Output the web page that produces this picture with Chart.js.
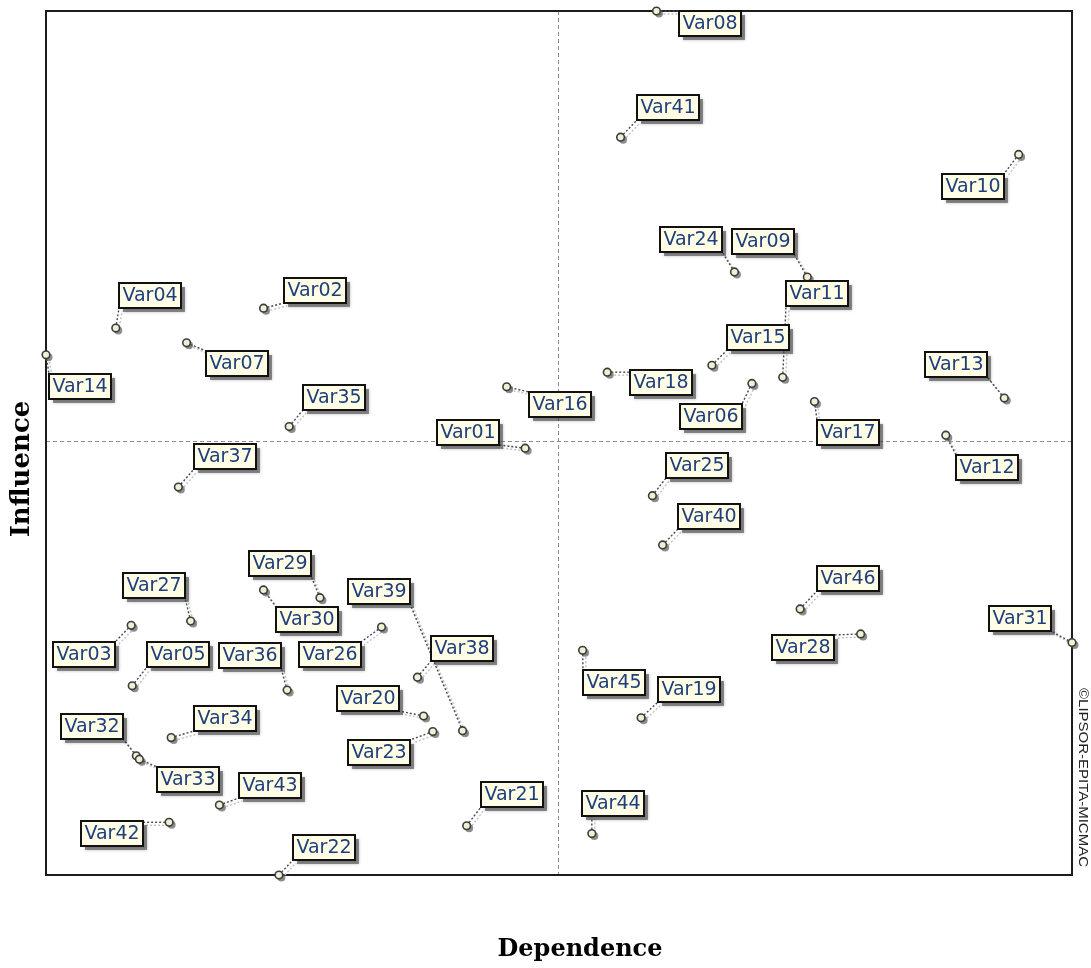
<!DOCTYPE html>
<html>
<head>
<meta charset="utf-8">
<script src="https://cdn.jsdelivr.net/npm/chart.js@4.4.0/dist/chart.umd.min.js"></script>
<style>
  html, body { margin: 0; padding: 0; background: #fff; }
  #wrap { width: 1091px; height: 968px; }
</style>
</head>
<body>
<div id="wrap"><canvas id="map"></canvas></div>
<script>
// variables du plan influence / dependance
const varNames = [
  "Var01", "Var02", "Var03", "Var04", "Var05", "Var06", "Var07", "Var08",
  "Var09", "Var10", "Var11", "Var12", "Var13", "Var14", "Var15", "Var16",
  "Var17", "Var18", "Var19", "Var20", "Var21", "Var22", "Var23", "Var24",
  "Var25", "Var26", "Var27", "Var28", "Var29", "Var30", "Var31", "Var32",
  "Var33", "Var34", "Var35", "Var36", "Var37", "Var38", "Var39", "Var40",
  "Var41", "Var42", "Var43", "Var44", "Var45", "Var46",
];
const dependence = [
  46.7, 21.2, 8.3, 6.8, 8.4, 68.8, 13.7, 59.5,
  74.2, 94.8, 71.8, 87.7, 93.4, 0, 64.9, 44.9,
  74.9, 54.7, 58.0, 36.8, 41.0, 22.7, 37.7, 67.1,
  59.1, 32.7, 14.1, 79.4, 26.7, 21.2, 100, 8.8,
  9.1, 12.2, 23.7, 23.5, 12.9, 36.2, 40.6, 60.1,
  56.0, 12.0, 16.9, 53.2, 52.3, 73.5,
];
const influence = [
  49.4, 65.6, 28.9, 63.3, 21.9, 56.9, 61.6, 100,
  69.2, 83.4, 57.6, 50.9, 55.2, 60.2, 59.0, 56.5,
  54.8, 58.2, 18.2, 18.4, 5.7, 0, 16.6, 69.8,
  43.9, 28.7, 29.4, 27.9, 32.1, 33.0, 26.9, 13.8,
  13.4, 15.9, 51.9, 21.4, 44.9, 22.9, 16.7, 38.2,
  85.4, 6.1, 8.1, 4.8, 26.0, 30.8,
];
// moyennes (axes des quadrants)
const midDependence = 49.9;
const midInfluence = 50.2;

// placement des etiquettes (decalage en pixels depuis le point)
const labelOffsets = [
  [-57, -16], [51, -18], [-47, 29], [34, -33], [46, -31], [-41, 33], [50, 21], [54, 12],
  [-44, -36], [-46, 32], [34, -84], [41, 32], [-48, -34], [34, 32], [46, -28], [53, 18],
  [34, 31], [54, 10], [48, -28], [-56, -18], [45, -31], [45, -28], [-54, 21], [-43, -32],
  [45, -30], [-52, 27], [-37, -35], [-58, 14], [-40, -34], [43, 30], [-52, -24], [-44, -29],
  [49, 20], [54, -19], [45, -29], [-37, -35], [47, -31], [45, -29], [-84, -139], [46, -28],
  [47, -30], [-57, 11], [51, -20], [21, -30], [31, 32], [48, -30],
];

const labelFont = "19px 'DejaVu Sans'";
const boxH = 25;

function labelBox(ctx, pt, i) {
  const w = Math.round(ctx.measureText(varNames[i]).width) + 7;
  const cx = pt.x + labelOffsets[i][0];
  const cy = pt.y + labelOffsets[i][1];
  return { x: Math.round(cx - w / 2), y: Math.round(cy - boxH / 2), w: w, h: boxH };
}

function seg(ctx, x1, y1, x2, y2) {
  ctx.beginPath();
  ctx.moveTo(x1, y1);
  ctx.lineTo(x2, y2);
  ctx.stroke();
}

const mapDecor = {
  id: "mapDecor",
  beforeDatasetsDraw(chart) {
    const { ctx, chartArea: a, scales } = chart;
    ctx.save();
    // axes des moyennes
    const mx = Math.round(scales.x.getPixelForValue(midDependence)) + 0.5;
    const my = Math.round(scales.y.getPixelForValue(midInfluence)) + 0.5;
    ctx.strokeStyle = "#8c8c8c";
    ctx.lineWidth = 1;
    ctx.setLineDash([4, 3]);
    seg(ctx, mx, a.top, mx, a.bottom);
    seg(ctx, a.left, my, a.right, my);
    // cadre
    ctx.setLineDash([]);
    ctx.strokeStyle = "#1c1c1c";
    ctx.lineWidth = 2;
    ctx.strokeRect(a.left, a.top, a.width, a.height);

    // traits de rappel + ombres des points
    ctx.font = labelFont;
    const meta = chart.getDatasetMeta(0);
    meta.data.forEach((pt, i) => {
      const b = labelBox(ctx, pt, i);
      const tx = Math.min(Math.max(pt.x, b.x), b.x + b.w);
      const ty = Math.min(Math.max(pt.y, b.y), b.y + b.h);
      ctx.setLineDash([2, 2]);
      ctx.lineWidth = 1.5;
      ctx.strokeStyle = "#c4c4c4";
      seg(ctx, pt.x + 3, pt.y + 3, tx + 3, ty + 3);
      ctx.strokeStyle = "#4a4a4a";
      ctx.lineWidth = 1.4;
      seg(ctx, pt.x, pt.y, tx, ty);
      ctx.setLineDash([]);
      ctx.fillStyle = "rgba(80,80,80,0.65)";
      ctx.beginPath();
      ctx.arc(pt.x + 2.5, pt.y + 2.5, 4, 0, Math.PI * 2);
      ctx.fill();
    });
    ctx.restore();
  },
  afterDatasetsDraw(chart) {
    const { ctx } = chart;
    ctx.save();
    ctx.font = labelFont;
    ctx.textAlign = "center";
    ctx.textBaseline = "middle";
    const meta = chart.getDatasetMeta(0);
    meta.data.forEach((pt, i) => {
      const b = labelBox(ctx, pt, i);
      // ombre
      ctx.save();
      ctx.fillStyle = "rgba(60,60,60,0.55)";
      ctx.shadowColor = "rgba(60,60,60,0.6)";
      ctx.shadowBlur = 3;
      ctx.fillRect(b.x + 4, b.y + 4, b.w, b.h);
      ctx.restore();
      ctx.fillStyle = "#fffde6";
      ctx.fillRect(b.x, b.y, b.w, b.h);
      ctx.strokeStyle = "#111";
      ctx.lineWidth = 2;
      ctx.strokeRect(b.x, b.y, b.w, b.h);
      ctx.fillStyle = "#1f3f7c";
      ctx.fillText(varNames[i], b.x + b.w / 2, b.y + b.h / 2 + 1);
    });
    ctx.restore();
  },
  afterDraw(chart) {
    const { ctx, chartArea: a } = chart;
    ctx.save();
    ctx.fillStyle = "#000";
    ctx.font = "bold 24px 'DejaVu Serif'";
    ctx.textAlign = "center";
    ctx.textBaseline = "middle";
    ctx.fillText("Dependence", 580, 950);
    ctx.save();
    ctx.font = "bold 26px 'DejaVu Serif'";
    ctx.translate(22, 469);
    ctx.rotate(-Math.PI / 2);
    ctx.fillText("Influence", 0, 0);
    ctx.restore();
    // copyright vertical
    ctx.save();
    ctx.font = "12px 'Liberation Sans'";
    ctx.fillStyle = "#222";
    ctx.textAlign = "left";
    const txt = "\u00A9LIPSOR-EPITA-MICMAC";
    const w = ctx.measureText(txt).width;
    ctx.translate(a.right + 10, 688);
    ctx.rotate(Math.PI / 2);
    ctx.scale(179 / w, 1);
    ctx.fillText(txt, 0, 0);
    ctx.restore();
    ctx.restore();
  },
};

const points = dependence.map((d, i) => ({ x: d, y: influence[i] }));

new Chart(document.getElementById("map"), {
  type: "scatter",
  data: {
    datasets: [
      {
        label: "Variables",
        data: points,
        pointRadius: 3.8,
        pointBackgroundColor: "#f2f0d4",
        pointBorderColor: "#3c3c3c",
        pointBorderWidth: 1.6,
        clip: false,
      },
    ],
  },
  options: {
    responsive: true,
    maintainAspectRatio: false,
    animation: false,
    layout: { padding: { left: 46, top: 11, right: 19, bottom: 93 } },
    plugins: { legend: { display: false }, tooltip: { enabled: false } },
    scales: {
      x: { type: "linear", min: 0, max: 100, display: false },
      y: { type: "linear", min: 0, max: 100, display: false },
    },
  },
  plugins: [mapDecor],
});
</script>
</body>
</html>
